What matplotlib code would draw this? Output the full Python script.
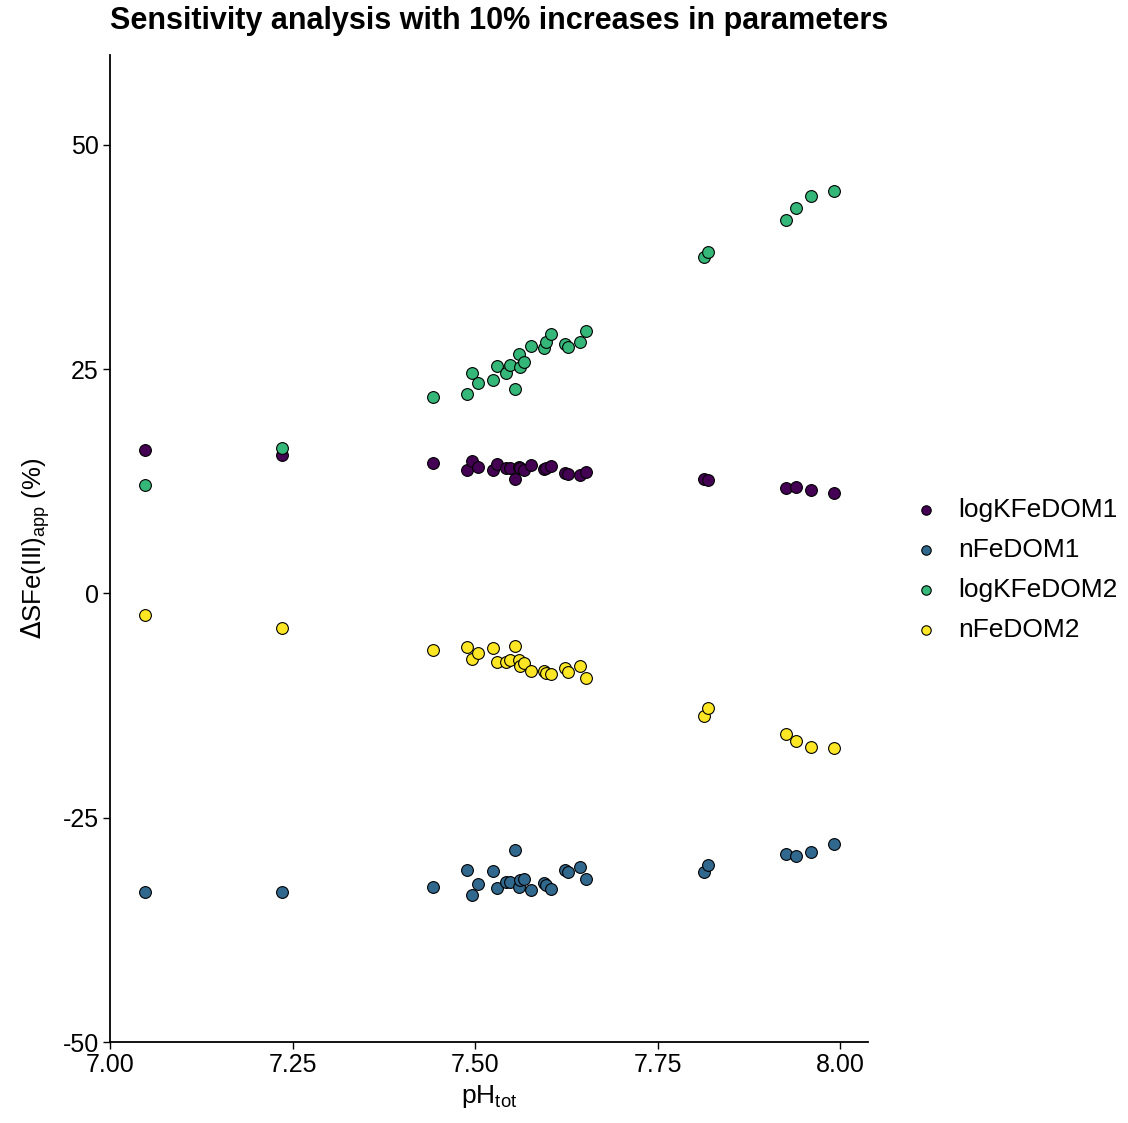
import numpy as np
import matplotlib
matplotlib.use('Agg')
from matplotlib import pyplot as plt

plt.rcParams['font.family'] = ['Liberation Sans', 'DejaVu Sans']
plt.rcParams['axes.unicode_minus'] = False

# pH values shared by all series
ph = [7.048, 7.236, 7.442, 7.489, 7.496, 7.504, 7.525, 7.530, 7.542, 7.548,
      7.554, 7.560, 7.562, 7.567, 7.577, 7.594, 7.597, 7.604, 7.623, 7.627,
      7.643, 7.652, 7.813, 7.819, 7.926, 7.940, 7.960, 7.991]

logKFeDOM1 = [16.0, 15.4, 14.5, 13.8, 14.7, 14.1, 13.8, 14.4, 14.0, 14.0,
              12.8, 14.1, 14.0, 13.7, 14.3, 13.9, 14.0, 14.2, 13.4, 13.3,
              13.2, 13.5, 12.7, 12.6, 11.7, 11.8, 11.5, 11.2]
nFeDOM1 = [-33.3, -33.3, -32.7, -30.8, -33.6, -32.4, -30.9, -32.8, -32.2, -32.2,
           -28.6, -32.7, -31.9, -31.8, -33.1, -32.3, -32.5, -32.9, -30.8, -31.1,
           -30.5, -31.8, -31.1, -30.3, -29.0, -29.3, -28.8, -27.9]
logKFeDOM2 = [12.1, 16.2, 21.9, 22.2, 24.6, 23.4, 23.8, 25.3, 24.6, 25.4,
              22.8, 26.7, 25.2, 25.8, 27.6, 27.3, 28.0, 28.9, 27.8, 27.5,
              28.0, 29.2, 37.5, 38.1, 41.6, 42.9, 44.3, 44.8]
nFeDOM2 = [-2.4, -3.9, -6.3, -6.0, -7.3, -6.7, -6.1, -7.7, -7.7, -7.4,
           -5.9, -7.4, -8.1, -7.8, -8.6, -8.7, -8.9, -9.0, -8.3, -8.8,
           -8.1, -9.4, -13.7, -12.8, -15.7, -16.5, -17.1, -17.2]

names = ['logKFeDOM1', 'nFeDOM1', 'logKFeDOM2', 'nFeDOM2']
series = [logKFeDOM1, nFeDOM1, logKFeDOM2, nFeDOM2]
colors = ['#440154', '#31688E', '#35B779', '#FDE725']

fig = plt.figure(figsize=(11.28, 11.23), dpi=100)
ax = fig.add_axes([110/1128, 1 - 1042/1123, 758/1128, (1042 - 55)/1123])

for name, vals, c in zip(names, series, colors):
    ax.scatter(ph, vals, s=72, color=c, edgecolor='black', linewidth=0.8,
               label=name, zorder=3)

ax.set_xlim(7.0, 8.038)
ax.set_ylim(-50, 60)
ax.set_xticks([7.00, 7.25, 7.50, 7.75, 8.00])
ax.set_xticklabels(['7.00', '7.25', '7.50', '7.75', '8.00'])
ax.set_yticks([-50, -25, 0, 25, 50])

for s in ['top', 'right']:
    ax.spines[s].set_visible(False)
for s in ['left', 'bottom']:
    ax.spines[s].set_linewidth(1.3)
ax.tick_params(axis='both', length=5, width=1.0, labelsize=18,
               colors='black', pad=3)

ax.set_xlabel(r'pH$_\mathregular{tot}$', fontsize=19, labelpad=4)
ax.set_ylabel(r'$\Delta$SFe(III)$_\mathregular{app}$ (%)', fontsize=18.5, labelpad=8)

fig.text(110/1128, 1 - 21/1123, 'Sensitivity analysis with 10% increases in parameters',
         fontsize=22, fontweight='bold', ha='left', va='center')

handles, labels = ax.get_legend_handles_labels()
fig.legend(handles, labels, loc='center left', bbox_to_anchor=(886/1128, 1 - 570/1123),
           frameon=False, fontsize=19, markerscale=0.8, handletextpad=0.65,
           labelspacing=0.6, handlelength=1.2)

fig.savefig('out.png', dpi=100)
